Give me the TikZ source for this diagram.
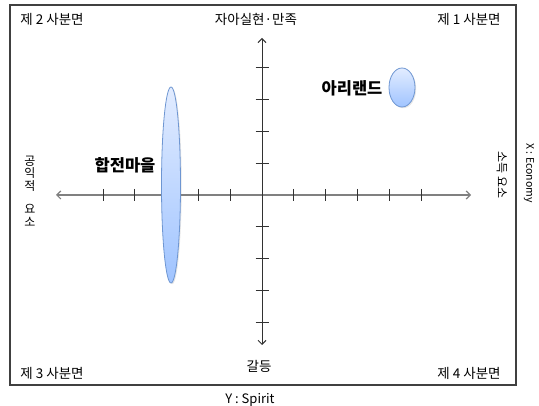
\documentclass[tikz,border=0pt]{standalone}
\usepackage{fontspec}
\setmainfont{Noto Sans CJK KR}
\usepackage{tikz}
\usetikzlibrary{arrows.meta,shadows,shapes.geometric}
\definecolor{framegray}{RGB}{64,64,64}
\definecolor{xaxisgray}{RGB}{128,128,128}
\definecolor{yaxisgray}{RGB}{50,50,50}
\definecolor{blobtop}{RGB}{226,236,255}
\definecolor{blobbot}{RGB}{160,196,255}
\definecolor{blobedge}{RGB}{110,150,210}
\begin{document}
\begin{tikzpicture}[x=1pt,y=-1pt,
  every node/.style={font=\fontsize{13.5}{15}\selectfont,inner sep=0pt},
  frame/.style={draw=framegray,line width=1.2pt},
  xaxis/.style={xaxisgray,line width=1.2pt,{Straight Barb[length=4pt,width=8pt]}-{Straight Barb[length=4pt,width=8pt]}},
  yaxis/.style={yaxisgray,line width=1pt,{Straight Barb[length=4pt,width=8pt]}-{Straight Barb[length=4pt,width=8pt]}},
  tick/.style={yaxisgray,line width=0.9pt},
  blob/.style={ellipse,draw=blobedge,line width=0.8pt,top color=blobtop,bottom color=blobbot,
               drop shadow={opacity=0.2,shadow xshift=1.2pt,shadow yshift=-1.2pt}},
  place/.style={font=\fontsize{16.5}{18}\selectfont\bfseries},
  side/.style={rotate=-90}]
\useasboundingbox (0,0) rectangle (539,406);
\def\ox{262}
\def\oy{195}
\draw[frame] (10,5) rectangle (516,385);
\coordinate (xl) at (56,\oy);
\coordinate (xr) at (471,\oy);
\coordinate (yt) at (\ox,38);
\coordinate (yb) at (\ox,345);
\draw[xaxis] (xl) -- (xr);
\draw[yaxis] (yb) -- (yt);
\foreach \k in {-5,...,-1,1,2,...,5}
  \draw[tick] (\ox+31.8*\k,\oy-6) -- (\ox+31.8*\k,\oy+6);
\foreach \k in {-4,...,-1,1,2,...,4}
  \draw[tick] (\ox-6.5,\oy+31.8*\k) -- (\ox+6.5,\oy+31.8*\k);
\node[blob,minimum width=19pt,minimum height=196pt] (hapjeon) at (171,185) {};
\node[blob,minimum width=26pt,minimum height=39pt] (ariland) at (402,87.5) {};
\node[place] (hapjeonlbl) at (125,165) {합전마을};
\node[place] (arilandlbl) at (352,88) {아리랜드};
\node (q2) at (52,19) {제 2 사분면};
\node (q1) at (469,19) {제 1 사분면};
\node (q3) at (52,373) {제 3 사분면};
\node (q4) at (469,373) {제 4 사분면};
\node (top) at (256,19) {자아실현·만족};
\node (bottom) at (259,366) {갈등};
\node[font=\fontsize{13}{14}\selectfont] (ylbl) at (250,400) {Y : Spirit};
\node[align=center,font=\fontsize{12}{12.8}\selectfont] (left) at (30,191) {공\\익\\적\\[10pt]요\\소};
\node[side,font=\fontsize{12}{13}\selectfont] (right) at (502,175) {소득 요소};
\node[side,font=\fontsize{10.5}{12}\selectfont] (xlbl) at (529,173) {X : Economy};
\end{tikzpicture}
\end{document}
